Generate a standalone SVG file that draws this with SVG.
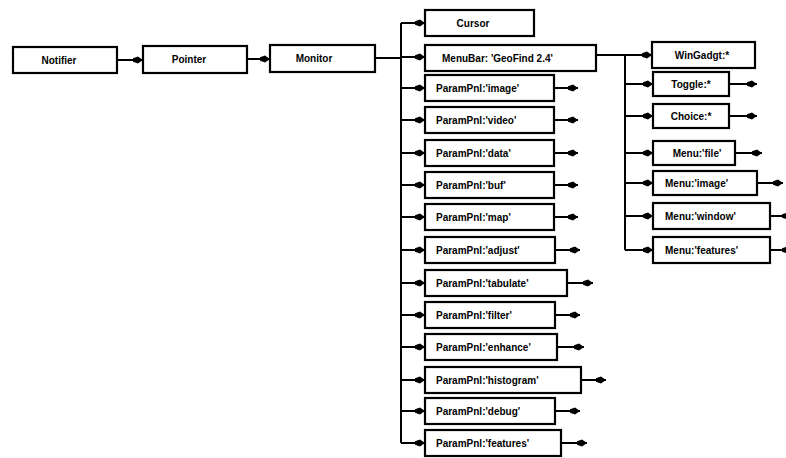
<svg xmlns="http://www.w3.org/2000/svg" width="786" height="458" viewBox="0 0 786 458">
<style>
.box{fill:#fff;stroke:#000;stroke-width:2.2;}
.ln{fill:none;stroke:#000;stroke-width:2;}
.arr{fill:none;stroke:#000;stroke-width:2;marker-end:url(#blob);}
text{font-family:"Liberation Sans",Arial,sans-serif;font-weight:bold;font-size:10px;fill:#000;}
.c{text-anchor:middle;}
</style>
<defs>
<marker id="blob" markerUnits="userSpaceOnUse" viewBox="-12 -5 13 10" markerWidth="13" markerHeight="10" refX="0" refY="0" orient="auto">
<path d="M0,0 L-5,-3.4 L-10,-1.8 L-10,1.8 L-5,3.4 Z" fill="#000"/>
</marker>
</defs>
<rect width="786" height="458" fill="#fff"/>
<g id="connectors">
<line class="arr" x1="117" y1="60" x2="143" y2="60"/>
<line class="arr" x1="247" y1="59" x2="270" y2="59"/>
<line class="ln" x1="375" y1="58" x2="401" y2="58"/>
<line class="ln" x1="401" y1="23" x2="401" y2="443"/>
<line class="arr" x1="401" y1="23" x2="425" y2="23"/>
<line class="arr" x1="401" y1="57" x2="425" y2="57"/>
<line class="arr" x1="401" y1="88" x2="425" y2="88"/>
<line class="arr" x1="401" y1="120" x2="425" y2="120"/>
<line class="arr" x1="401" y1="153" x2="425" y2="153"/>
<line class="arr" x1="401" y1="185" x2="425" y2="185"/>
<line class="arr" x1="401" y1="217" x2="425" y2="217"/>
<line class="arr" x1="401" y1="250" x2="425" y2="250"/>
<line class="arr" x1="401" y1="283" x2="425" y2="283"/>
<line class="arr" x1="401" y1="315" x2="425" y2="315"/>
<line class="arr" x1="401" y1="347" x2="425" y2="347"/>
<line class="arr" x1="401" y1="380" x2="425" y2="380"/>
<line class="arr" x1="401" y1="411" x2="425" y2="411"/>
<line class="arr" x1="401" y1="443" x2="425" y2="443"/>
<line class="arr" x1="554" y1="88" x2="578" y2="88"/>
<line class="arr" x1="554" y1="120" x2="578" y2="120"/>
<line class="arr" x1="554" y1="153" x2="578" y2="153"/>
<line class="arr" x1="554" y1="185" x2="578" y2="185"/>
<line class="arr" x1="554" y1="217" x2="578" y2="217"/>
<line class="arr" x1="555" y1="250" x2="580" y2="250"/>
<line class="arr" x1="567" y1="283" x2="593" y2="283"/>
<line class="arr" x1="555" y1="315" x2="580" y2="315"/>
<line class="arr" x1="557" y1="347" x2="584" y2="347"/>
<line class="arr" x1="581" y1="380" x2="606" y2="380"/>
<line class="arr" x1="555" y1="411" x2="580" y2="411"/>
<line class="arr" x1="561" y1="443" x2="587" y2="443"/>
<line class="ln" x1="596" y1="55" x2="625" y2="55"/>
<line class="ln" x1="625" y1="55" x2="625" y2="250"/>
<line class="arr" x1="625" y1="55" x2="652" y2="55"/>
<line class="arr" x1="625" y1="84" x2="653" y2="84"/>
<line class="arr" x1="625" y1="116" x2="653" y2="116"/>
<line class="arr" x1="625" y1="153" x2="653" y2="153"/>
<line class="arr" x1="625" y1="183" x2="653" y2="183"/>
<line class="arr" x1="625" y1="216" x2="653" y2="216"/>
<line class="arr" x1="625" y1="250" x2="653" y2="250"/>
<line class="arr" x1="729" y1="84" x2="757" y2="84"/>
<line class="arr" x1="729" y1="116" x2="757" y2="116"/>
<line class="arr" x1="735" y1="153" x2="762" y2="153"/>
<line class="arr" x1="757" y1="183" x2="783" y2="183"/>
<line class="arr" x1="770" y1="216" x2="792" y2="216"/>
<line class="arr" x1="770" y1="250" x2="792" y2="250"/>
</g>
<g id="notifier"><rect class="box" x="13" y="47" width="104" height="26"/><text class="c" x="59" y="63.5">Notifier</text></g>
<g id="pointer"><rect class="box" x="143" y="46" width="104" height="27"/><text class="c" x="189" y="63">Pointer</text></g>
<g id="monitor"><rect class="box" x="270" y="45" width="105" height="27"/><text class="c" x="314" y="62">Monitor</text></g>
<g id="cursor"><rect class="box" x="425" y="10" width="109" height="26"/><text class="c" x="473" y="26.5">Cursor</text></g>
<g id="menubar"><rect class="box" x="425" y="45" width="171" height="26"/><text x="442" y="61.5">MenuBar: 'GeoFind 2.4'</text></g>
<g id="pp-image"><rect class="box" x="425" y="75" width="129" height="26"/><text x="436" y="91.5">ParamPnl:'image'</text></g>
<g id="pp-video"><rect class="box" x="425" y="107" width="129" height="26"/><text x="436" y="123.5">ParamPnl:'video'</text></g>
<g id="pp-data"><rect class="box" x="425" y="140" width="129" height="26"/><text x="436" y="156.5">ParamPnl:'data'</text></g>
<g id="pp-buf"><rect class="box" x="425" y="172" width="129" height="26"/><text x="436" y="188.5">ParamPnl:'buf'</text></g>
<g id="pp-map"><rect class="box" x="425" y="204" width="129" height="26"/><text x="436" y="220.5">ParamPnl:'map'</text></g>
<g id="pp-adjust"><rect class="box" x="425" y="237" width="130" height="26"/><text x="436" y="253.5">ParamPnl:'adjust'</text></g>
<g id="pp-tabulate"><rect class="box" x="425" y="270" width="142" height="26"/><text x="436" y="286.5">ParamPnl:'tabulate'</text></g>
<g id="pp-filter"><rect class="box" x="425" y="302" width="130" height="26"/><text x="436" y="318.5">ParamPnl:'filter'</text></g>
<g id="pp-enhance"><rect class="box" x="425" y="334" width="132" height="26"/><text x="436" y="350.5">ParamPnl:'enhance'</text></g>
<g id="pp-histogram"><rect class="box" x="425" y="367" width="156" height="26"/><text x="436" y="383.5">ParamPnl:'histogram'</text></g>
<g id="pp-debug"><rect class="box" x="425" y="398" width="130" height="26"/><text x="436" y="414.5">ParamPnl:'debug'</text></g>
<g id="pp-features"><rect class="box" x="425" y="430" width="136" height="26"/><text x="436" y="446.5">ParamPnl:'features'</text></g>
<g id="wingadgt"><rect class="box" x="652" y="42" width="103" height="26"/><text class="c" x="702" y="58.5">WinGadgt:*</text></g>
<g id="toggle"><rect class="box" x="653" y="72" width="76" height="24"/><text class="c" x="691" y="87.5">Toggle:*</text></g>
<g id="choice"><rect class="box" x="653" y="104" width="76" height="24"/><text class="c" x="691" y="119.5">Choice:*</text></g>
<g id="menu-file"><rect class="box" x="653" y="141" width="82" height="24"/><text class="c" x="697" y="156.5">Menu:'file'</text></g>
<g id="menu-image"><rect class="box" x="653" y="171" width="104" height="24"/><text x="665" y="186.5">Menu:'image'</text></g>
<g id="menu-window"><rect class="box" x="653" y="203" width="117" height="26"/><text x="665" y="219.5">Menu:'window'</text></g>
<g id="menu-features"><rect class="box" x="653" y="237" width="117" height="26"/><text x="665" y="253.5">Menu:'features'</text></g>
</svg>
